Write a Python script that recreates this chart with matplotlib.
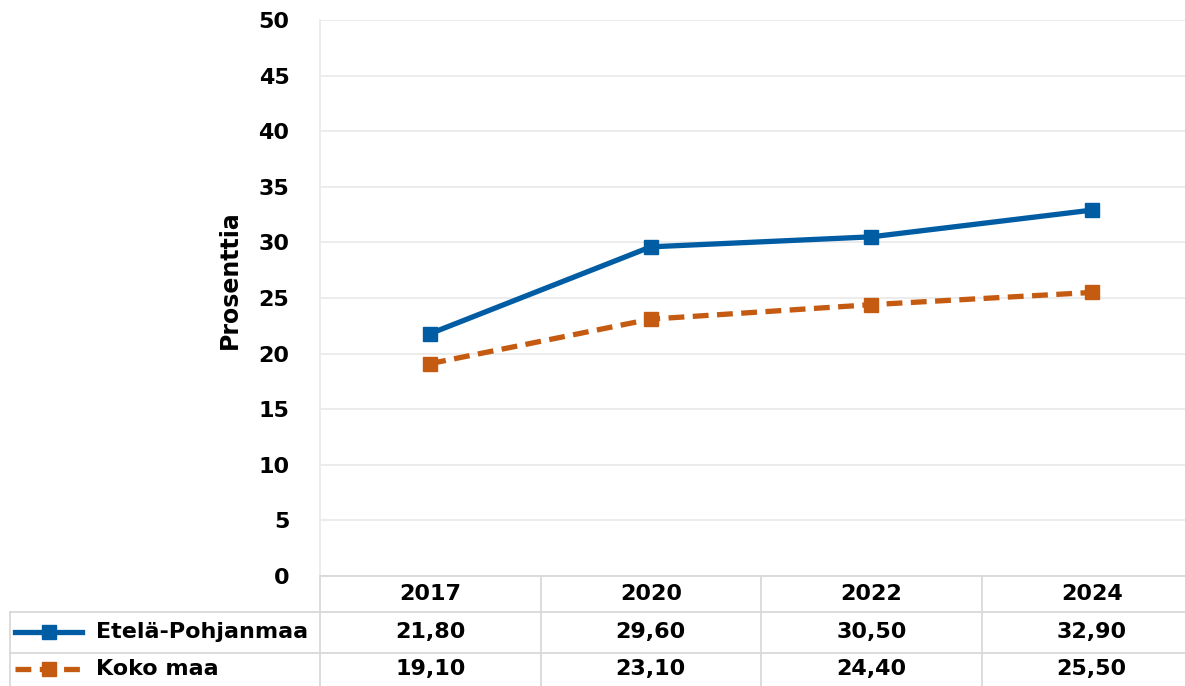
import numpy as np
import matplotlib
matplotlib.use("Agg")
import matplotlib.pyplot as plt
from matplotlib.lines import Line2D
from matplotlib.transforms import blended_transform_factory


# Data
years = ["2017", "2020", "2022", "2024"]
etela_pohjanmaa = [21.80, 29.60, 30.50, 32.90]
koko_maa = [19.10, 23.10, 24.40, 25.50]
series_names = ["Etelä-Pohjanmaa", "Koko maa"]
y_ticks = [0, 5, 10, 15, 20, 25, 30, 35, 40, 45, 50]

blue = "#005DA4"
orange = "#C55A11"
grid_col = "#EBEBEB"
table_col = "#D9D9D9"
fs = 16

plt.rcParams["font.family"] = ["DejaVu Sans"]
plt.rcParams["font.weight"] = "bold"

W, H = 1185, 686
fig = plt.figure(figsize=(W / 100, H / 100), dpi=100)

# plot area (right edge runs past the image like in the reference)
ax = fig.add_axes([320 / W, 1 - 576 / H, (1202 - 320) / W, (576 - 20) / H])

x = np.arange(len(years))
dash = (0, (3, 1.6))
ax.plot(x, etela_pohjanmaa, color=blue, lw=3.8, marker="s", ms=10, zorder=3)
ax.plot(x, koko_maa, color=orange, lw=3.8, ls=dash, marker="s", ms=10, zorder=3)

ax.set_xlim(-0.5, len(years) - 0.5)
ax.set_ylim(0, 50)
ax.set_yticks(y_ticks)
ax.set_xticks([])
ax.grid(axis="y", color=grid_col, lw=1.3)
ax.set_axisbelow(True)
for s in ["top", "right", "bottom"]:
    ax.spines[s].set_visible(False)
ax.spines["left"].set_color(grid_col)
ax.spines["left"].set_linewidth(1.3)
ax.tick_params(axis="y", length=0, pad=22, labelsize=fs)
for lab in ax.get_yticklabels():
    lab.set_fontweight("bold")

fig.text(230 / W, 1 - 280 / H, "Prosenttia", rotation=90, ha="center", va="center",
         fontsize=fs + 1, fontweight="bold")

# Data table under the axis
ax_h = 576 - 20


def ay(py):
    return (576 - py) / ax_h


trans = blended_transform_factory(ax.transData, ax.transAxes)

# grid lines of the table
for b in np.arange(len(years)) - 0.5:
    ax.add_artist(Line2D([b, b], [0, ay(700)], transform=trans, color=table_col,
                         lw=1.3, clip_on=False))
for py in [612, 653]:
    fig.add_artist(Line2D([10 / W, 1], [1 - py / H, 1 - py / H], color=table_col, lw=1.3))
fig.add_artist(Line2D([10 / W, 10 / W], [1 - 612 / H, 0], color=table_col, lw=1.3))
fig.add_artist(Line2D([320 / W, 1], [1 - 576 / H, 1 - 576 / H], color=table_col, lw=1.3))

for i, yr in enumerate(years):
    ax.text(i, ay(594), yr, transform=trans, ha="center", va="center",
            fontsize=fs, fontweight="bold")

rows = [etela_pohjanmaa, koko_maa]
row_y = [632, 669]
for vals, py in zip(rows, row_y):
    for i, v in enumerate(vals):
        ax.text(i, ay(py), f"{v:.2f}".replace(".", ","), transform=trans,
                ha="center", va="center", fontsize=fs, fontweight="bold")

# legend keys + row names
styles = [(blue, "-"), (orange, dash)]
for (col, ls), name, py in zip(styles, series_names, row_y):
    fy = 1 - py / H
    fig.add_artist(Line2D([15 / W, 82 / W], [fy, fy], color=col, lw=3.8, ls=ls))
    fig.add_artist(Line2D([49 / W], [fy], color=col, marker="s", ms=10, ls="none"))
    fig.text(96 / W, fy, name, ha="left", va="center", fontsize=fs, fontweight="bold")

fig.savefig("out.png", dpi=100)
